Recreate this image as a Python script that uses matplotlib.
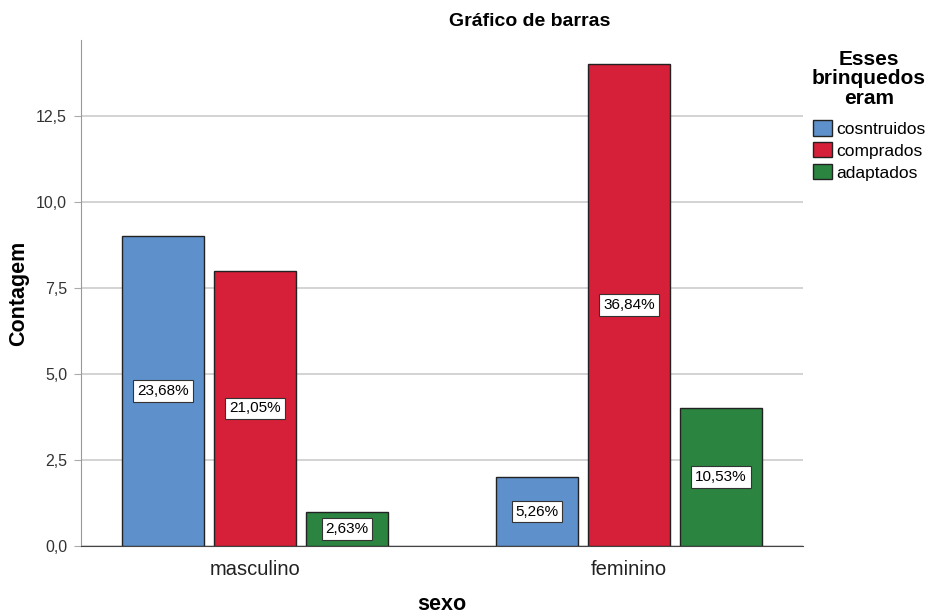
import numpy as np
import matplotlib.pyplot as plt
from matplotlib.patches import Patch

plt.rcParams['font.family'] = ['Liberation Sans', 'DejaVu Sans']

sexo = ['masculino', 'feminino']
grupos = ['cosntruidos', 'comprados', 'adaptados']
contagem = {
    'cosntruidos': [9, 2],
    'comprados': [8, 14],
    'adaptados': [1, 4],
}
cores = ['#5E91CC', '#D61F38', '#2B8541']

total = sum(sum(v) for v in contagem.values())

W, H = 929, 616
fig = plt.figure(figsize=(W / 100, H / 100), dpi=100)
ax = fig.add_axes([0.0872, 0.1136, 0.7772, 0.8214])

x = np.arange(len(sexo))
largura = 0.219
passo = 0.246
for i, g in enumerate(grupos):
    pos = x + (i - 1) * passo
    vals = contagem[g]
    ax.bar(pos, vals, width=largura, color=cores[i], edgecolor='#222222', linewidth=1, zorder=3)
    for p, v in zip(pos, vals):
        pct = '%.2f%%' % (100.0 * v / total)
        ax.text(p, v / 2, pct.replace('.', ','), ha='center', va='center', fontsize=11,
                bbox=dict(boxstyle='square,pad=0.25', fc='white', ec='#333333', lw=0.8), zorder=4)

ax.set_xlim(-0.465, 1.465)
ax.set_ylim(0, 14.7)
ax.set_yticks([0, 2.5, 5, 7.5, 10, 12.5])
ax.set_yticklabels(['0,0', '2,5', '5,0', '7,5', '10,0', '12,5'], fontsize=11.5, color='#333333')
ax.set_xticks(x)
ax.set_xticklabels(sexo, fontsize=14.5, color='#222222')
ax.tick_params(axis='x', length=0, pad=10)
ax.tick_params(axis='y', length=5, color='#aaaaaa', pad=5)
ax.yaxis.grid(True, color='#cccccc', linewidth=1.2, zorder=0)
for s in ['top', 'right']:
    ax.spines[s].set_visible(False)
ax.spines['left'].set_color('#999999')
ax.spines['bottom'].set_color('#444444')

ax.set_ylabel('Contagem', fontsize=15.5, fontweight='bold')
ax.yaxis.set_label_coords((29 - 81) / 722, 0.5)
fig.text(442 / W, 1 - 605 / H, 'sexo', ha='center', va='center', fontsize=15.5, fontweight='bold')
fig.text(530 / W, 1 - 22 / H, 'Gráfico de barras', ha='center', va='center',
         fontsize=14, fontweight='bold')

# legenda: titulo separado
fig.text(869 / W, 1 - 79 / H, 'Esses\nbrinquedos\neram', ha='center', va='center',
         multialignment='center', fontsize=15, fontweight='bold', linespacing=1.05)
handles = [Patch(facecolor=c, edgecolor='#222222', label=g) for c, g in zip(cores, grupos)]
leg = fig.legend(handles=handles, loc='upper left',
                 bbox_to_anchor=(813 / W, 1 - 120 / H), frameon=False, fontsize=12.5,
                 handlelength=1.1, handleheight=1.0, handletextpad=0.25, labelspacing=0.3,
                 borderaxespad=0, borderpad=0)

fig.savefig('out.png', dpi=100)
